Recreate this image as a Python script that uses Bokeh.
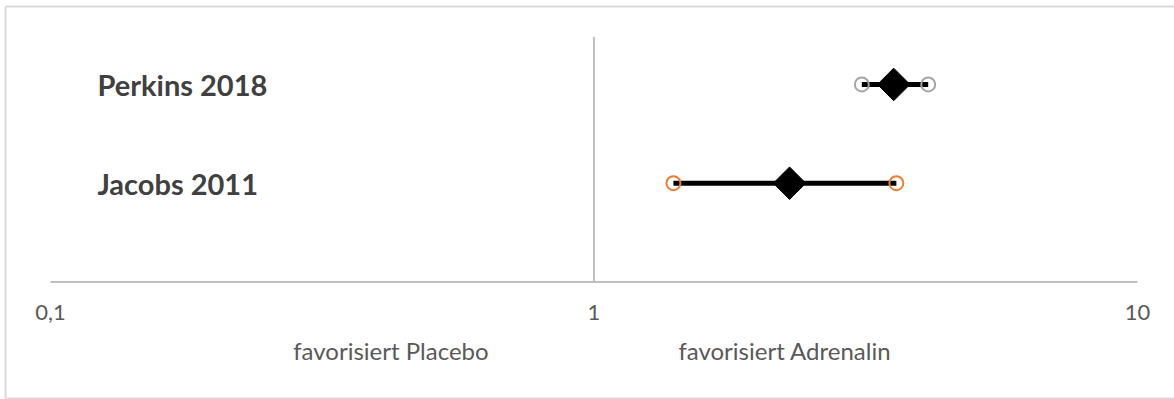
from bokeh.plotting import figure
from bokeh.models import (ColumnDataSource, Range1d, FixedTicker, Label,
                          LogAxis)
from bokeh.core.properties import value
from bokeh.embed import file_html
from bokeh.resources import INLINE

# ---- data ----
studies = ["Perkins 2018", "Jacobs 2011"]
rows = [2, 1]
odds_ratio = [3.56, 2.29]
ci_low = [3.11, 1.40]
ci_high = [4.12, 3.60]
ci_colors = ["#A5A5A5", "#ED7D31"]
tick_values = [0.1, 1, 10]
tick_labels = ["0,1", "1", "10"]
side_labels = ["favorisiert Placebo", "favorisiert Adrenalin"]
side_label_x = [0.423, 2.245]

X_MIN, X_MAX = 0.08091, 11.697

src = ColumnDataSource(dict(study=studies, y=rows, orv=odds_ratio,
                            lo=ci_low, hi=ci_high, col=ci_colors))

p = figure(width=1174, height=399, x_axis_type="log",
           x_range=Range1d(X_MIN, X_MAX), y_range=Range1d(-1.19, 2.85),
           output_backend="svg", toolbar_location=None,
           x_axis_location=None, y_axis_location=None, min_border=0)
p.outline_line_color = None
p.xgrid.visible = False
p.ygrid.visible = False
p.background_fill_color = "white"
p.border_fill_color = "white"

ax = LogAxis(fixed_location=0)
ax.ticker = FixedTicker(ticks=tick_values, minor_ticks=[])
ax.major_label_overrides = {v: t for v, t in zip(tick_values, tick_labels)}
ax.axis_line_color = None
ax.major_tick_line_color = None
ax.minor_tick_line_color = None
ax.major_tick_out = 0
ax.major_tick_in = 0
ax.major_label_standoff = 23
ax.major_label_text_font = "Lato"
ax.major_label_text_font_size = "22px"
ax.major_label_text_color = "#595959"
p.add_layout(ax, "below")

# outer chart border (left, top, bottom; right edge lies outside the view)
BORDER = "#D9D9D9"
p.segment(x0=[0.08264], y0=[-1.180], x1=[0.08264], y1=[2.789],
          line_color=BORDER, line_width=2)
p.segment(x0=[0.08264], y0=[2.789], x1=[X_MAX], y1=[2.789],
          line_color=BORDER, line_width=2)
p.segment(x0=[0.08264], y0=[-1.180], x1=[X_MAX], y1=[-1.180],
          line_color=BORDER, line_width=2)

# value axis line from 0,1 to 10
p.segment(x0=[tick_values[0]], y0=[0], x1=[tick_values[-1]], y1=[0],
          line_color="#BFBFBF", line_width=2)

# reference line at 1
p.segment(x0=[1], y0=[0], x1=[1], y1=[2.48], line_color="#BFBFBF",
          line_width=2)

# confidence intervals
p.segment(x0="lo", y0="y", x1="hi", y1="y", source=src, line_color="black",
          line_width=5)
p.scatter(x="lo", y="y", source=src, marker="circle", size=14,
          fill_color=None, line_color="col", line_width=2)
p.scatter(x="hi", y="y", source=src, marker="circle", size=14,
          fill_color=None, line_color="col", line_width=2)
p.scatter(x="orv", y="y", source=src, marker="square", size=23,
          angle=0.785398, fill_color="black", line_color="black")

# study labels
p.text(x=0.122, y="y", text="study", source=src, text_font=value("Lato"),
       text_font_style="bold", text_font_size="29px", text_color="#404040",
       text_baseline="middle", text_align="left")

for lbl, lx in zip(side_labels, side_label_x):
    p.add_layout(Label(x=lx, y=-0.695, text=lbl, text_font="Lato",
                       text_font_size="24px", text_color="#595959",
                       text_align="center", text_baseline="middle"))

open("out.html", "w").write(file_html(p, INLINE))
